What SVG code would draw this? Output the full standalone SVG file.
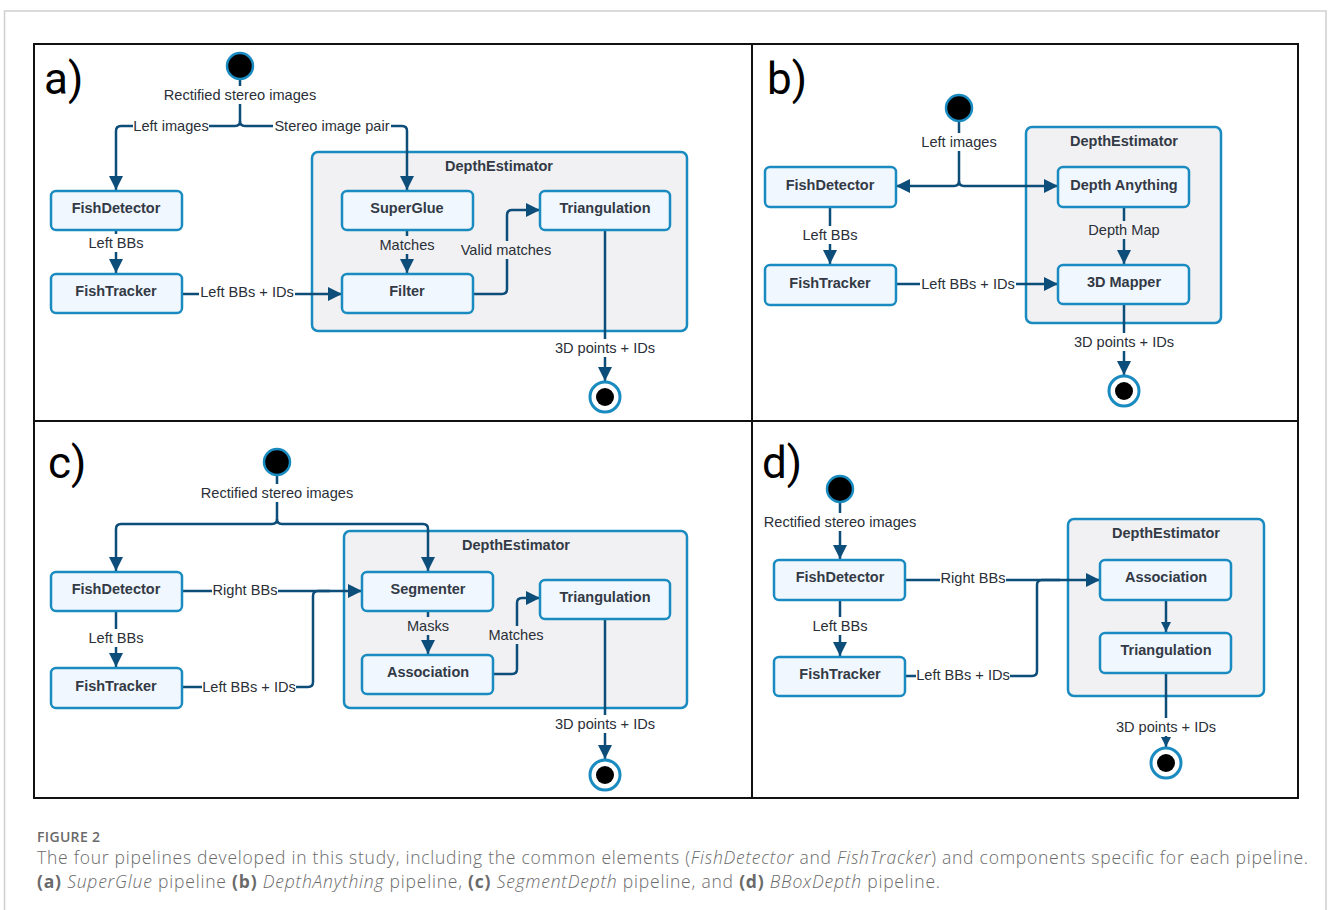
<svg xmlns="http://www.w3.org/2000/svg" width="1328" height="910" viewBox="0 0 1328 910">
<style>
.node rect{fill:#f0f7fe;stroke:#1a8bc0;stroke-width:2.5}
.node text{font-family:"Liberation Sans",Arial,sans-serif;font-weight:bold;font-size:14.5px;fill:#333a45;text-anchor:middle;dominant-baseline:central}
.cont rect{fill:#f1f1f3;stroke:#1a8bc0;stroke-width:2.5}
.cont text{font-family:"Liberation Sans",Arial,sans-serif;font-weight:bold;font-size:14.5px;fill:#333a45;text-anchor:middle;dominant-baseline:central}
.conn path{fill:none;stroke:#0c4d79;stroke-width:2.5}
.lbl{font-family:"Liberation Sans",Arial,sans-serif;font-size:14.6px;fill:#2a2f38;text-anchor:middle;dominant-baseline:central}
.bgw{fill:#ffffff}
.bgg{fill:#f1f1f3}
.start{fill:#000;stroke:#1a8bc0;stroke-width:2.5}
.endo{fill:#fff;stroke:#1a8bc0;stroke-width:3}
.endi{fill:#000}
.plet{font-family:Roboto,"Liberation Sans",sans-serif;font-size:44px;fill:#000}
.cap{font-family:"Open Sans","Noto Sans",sans-serif;fill:#6a6a6a}
</style>
<defs>
<marker id="arr" viewBox="0 0 12 12" refX="12" refY="6" markerWidth="14" markerHeight="14" markerUnits="userSpaceOnUse" orient="auto"><path d="M0,0 L12,6 L0,12 z" fill="#0c4d79"/></marker>
<marker id="arrs" viewBox="0 0 12 12" refX="12" refY="6" markerWidth="10" markerHeight="10" markerUnits="userSpaceOnUse" orient="auto"><path d="M0,0 L12,6 L0,12 z" fill="#0c4d79"/></marker>
</defs>
<rect width="1328" height="910" fill="#fff"/>
<path d="M4.5,920 V11 H1326 V920" fill="none" stroke="#cfcfcf" stroke-width="1.5"/>
<rect x="34" y="44" width="1264" height="754" fill="none" stroke="#111" stroke-width="2"/>
<line x1="752" y1="44" x2="752" y2="798" stroke="#111" stroke-width="2"/>
<line x1="34" y1="421" x2="1298" y2="421" stroke="#111" stroke-width="2"/>
<text class="plet" x="44" y="94">a)</text>
<text class="plet" x="767" y="94">b)</text>
<text class="plet" x="48" y="478">c)</text>
<text class="plet" x="762" y="478">d)</text>

<!-- containers -->
<g id="a-depthestimator" class="cont"><rect x="312" y="152" width="375" height="179" rx="6"/><text x="499" y="166">DepthEstimator</text></g>
<g id="b-depthestimator" class="cont"><rect x="1026" y="127" width="195" height="196" rx="6"/><text x="1124" y="141">DepthEstimator</text></g>
<g id="c-depthestimator" class="cont"><rect x="344" y="531" width="343" height="177" rx="6"/><text x="516" y="545">DepthEstimator</text></g>
<g id="d-depthestimator" class="cont"><rect x="1068" y="519" width="196" height="177" rx="6"/><text x="1166" y="533">DepthEstimator</text></g>

<!-- connectors -->
<g id="connectors" class="conn">
<!-- a -->
<path d="M240,79 V121 Q240,126 235,126 H121 Q116,126 116,131 V190" marker-end="url(#arr)"/>
<path d="M240,121 Q240,126 245,126 H402 Q407,126 407,131 V190" marker-end="url(#arr)"/>
<path d="M116,230 V273" marker-end="url(#arr)"/>
<path d="M182,294 H342" marker-end="url(#arr)"/>
<path d="M407,230 V273" marker-end="url(#arr)"/>
<path d="M473,294 H502 Q507,294 507,289 V215 Q507,210 512,210 H540" marker-end="url(#arr)"/>
<path d="M605,230 V381" marker-end="url(#arr)"/>
<!-- b -->
<path d="M959,121 V181 Q959,186 954,186 H896" marker-end="url(#arr)"/>
<path d="M959,181 Q959,186 964,186 H1058" marker-end="url(#arr)"/>
<path d="M830,207 V264" marker-end="url(#arr)"/>
<path d="M896,284 H1058" marker-end="url(#arr)"/>
<path d="M1124,207 V264" marker-end="url(#arr)"/>
<path d="M1124,304 V375" marker-end="url(#arr)"/>
<!-- c -->
<path d="M277,475 V519 Q277,524 272,524 H121 Q116,524 116,529 V571" marker-end="url(#arr)"/>
<path d="M277,519 Q277,524 282,524 H423 Q428,524 428,529 V571" marker-end="url(#arr)"/>
<path d="M182,591 H362" marker-end="url(#arr)"/>
<path d="M182,687 H308 Q313,687 313,682 V596 Q313,591 318,591 H330"/>
<path d="M116,611 V667" marker-end="url(#arr)"/>
<path d="M428,611 V654" marker-end="url(#arr)"/>
<path d="M493,674 H512 Q517,674 517,669 V603 Q517,598 522,598 H540" marker-end="url(#arr)"/>
<path d="M605,619 V759" marker-end="url(#arr)"/>
<!-- d -->
<path d="M840,502 V559" marker-end="url(#arr)"/>
<path d="M905,580 H1100" marker-end="url(#arr)"/>
<path d="M905,676 H1032 Q1037,676 1037,671 V585 Q1037,580 1042,580 H1060"/>
<path d="M840,600 V656" marker-end="url(#arr)"/>
<path d="M1166,600 V632" marker-end="url(#arrs)"/>
<path d="M1166,673 V747" marker-end="url(#arrs)"/>
</g>

<!-- labels -->
<g id="labels">
<rect class="bgw" x="162" y="86" width="156" height="18"/><text class="lbl" x="240" y="95">Rectified stereo images</text>
<rect class="bgw" x="133" y="117" width="76" height="18"/><text class="lbl" x="171" y="126">Left images</text>
<rect class="bgw" x="273" y="117" width="118" height="18"/><text class="lbl" x="332" y="126">Stereo image pair</text>
<rect class="bgw" x="86" y="234" width="60" height="18"/><text class="lbl" x="116" y="243">Left BBs</text>
<rect class="bgw" x="199" y="285" width="96" height="18"/><text class="lbl" x="247" y="292">Left BBs + IDs</text>
<rect class="bgg" x="377" y="236" width="60" height="18"/><text class="lbl" x="407" y="245">Matches</text>
<rect class="bgg" x="459" y="241" width="94" height="18"/><text class="lbl" x="506" y="250">Valid matches</text>
<rect class="bgw" x="553" y="339" width="104" height="18"/><text class="lbl" x="605" y="348">3D points + IDs</text>

<rect class="bgw" x="919" y="133" width="80" height="18"/><text class="lbl" x="959" y="142">Left images</text>
<rect class="bgw" x="800" y="226" width="60" height="18"/><text class="lbl" x="830" y="235">Left BBs</text>
<rect class="bgw" x="920" y="275" width="96" height="18"/><text class="lbl" x="968" y="284">Left BBs + IDs</text>
<rect class="bgg" x="1087" y="221" width="74" height="18"/><text class="lbl" x="1124" y="230">Depth Map</text>
<rect class="bgw" x="1072" y="333" width="104" height="18"/><text class="lbl" x="1124" y="342">3D points + IDs</text>

<rect class="bgw" x="199" y="484" width="156" height="18"/><text class="lbl" x="277" y="493">Rectified stereo images</text>
<rect class="bgw" x="212" y="581" width="66" height="18"/><text class="lbl" x="245" y="590">Right BBs</text>
<rect class="bgw" x="86" y="629" width="60" height="18"/><text class="lbl" x="116" y="638">Left BBs</text>
<rect class="bgw" x="202" y="678" width="94" height="18"/><text class="lbl" x="249" y="687">Left BBs + IDs</text>
<rect class="bgg" x="404" y="617" width="48" height="18"/><text class="lbl" x="428" y="626">Masks</text>
<rect class="bgg" x="487" y="626" width="60" height="18"/><text class="lbl" x="516" y="635">Matches</text>
<rect class="bgw" x="553" y="715" width="104" height="18"/><text class="lbl" x="605" y="724">3D points + IDs</text>

<rect class="bgw" x="762" y="513" width="156" height="18"/><text class="lbl" x="840" y="522">Rectified stereo images</text>
<rect class="bgw" x="940" y="569" width="66" height="18"/><text class="lbl" x="973" y="578">Right BBs</text>
<rect class="bgw" x="810" y="617" width="60" height="18"/><text class="lbl" x="840" y="626">Left BBs</text>
<rect class="bgw" x="916" y="666" width="94" height="18"/><text class="lbl" x="963" y="675">Left BBs + IDs</text>
<rect class="bgw" x="1114" y="718" width="104" height="18"/><text class="lbl" x="1166" y="727">3D points + IDs</text>
</g>

<!-- panel a nodes -->
<g id="a-start"><circle class="start" cx="240" cy="66" r="13"/></g>
<g id="a-fishdetector" class="node"><rect x="51" y="191" width="131" height="39" rx="5"/><text x="116" y="208">FishDetector</text></g>
<g id="a-fishtracker" class="node"><rect x="51" y="274" width="131" height="39" rx="5"/><text x="116" y="291">FishTracker</text></g>
<g id="a-superglue" class="node"><rect x="342" y="191" width="131" height="39" rx="5"/><text x="407" y="208">SuperGlue</text></g>
<g id="a-filter" class="node"><rect x="342" y="274" width="131" height="39" rx="5"/><text x="407" y="291">Filter</text></g>
<g id="a-triangulation" class="node"><rect x="540" y="191" width="130" height="39" rx="5"/><text x="605" y="208">Triangulation</text></g>
<g id="a-end"><circle class="endo" cx="605" cy="397" r="15"/><circle class="endi" cx="605" cy="397" r="9"/></g>

<!-- panel b nodes -->
<g id="b-start"><circle class="start" cx="959" cy="108" r="13"/></g>
<g id="b-fishdetector" class="node"><rect x="765" y="167" width="131" height="40" rx="5"/><text x="830" y="185">FishDetector</text></g>
<g id="b-fishtracker" class="node"><rect x="765" y="265" width="131" height="40" rx="5"/><text x="830" y="283">FishTracker</text></g>
<g id="b-depthanything" class="node"><rect x="1058" y="167" width="131" height="40" rx="5"/><text x="1124" y="185">Depth Anything</text></g>
<g id="b-3dmapper" class="node"><rect x="1058" y="265" width="131" height="39" rx="5"/><text x="1124" y="282">3D Mapper</text></g>
<g id="b-end"><circle class="endo" cx="1124" cy="391" r="15"/><circle class="endi" cx="1124" cy="391" r="9"/></g>

<!-- panel c nodes -->
<g id="c-start"><circle class="start" cx="277" cy="462" r="13"/></g>
<g id="c-fishdetector" class="node"><rect x="51" y="572" width="131" height="39" rx="5"/><text x="116" y="589">FishDetector</text></g>
<g id="c-fishtracker" class="node"><rect x="51" y="668" width="131" height="40" rx="5"/><text x="116" y="686">FishTracker</text></g>
<g id="c-segmenter" class="node"><rect x="362" y="572" width="131" height="39" rx="5"/><text x="428" y="589">Segmenter</text></g>
<g id="c-association" class="node"><rect x="362" y="655" width="131" height="39" rx="5"/><text x="428" y="672">Association</text></g>
<g id="c-triangulation" class="node"><rect x="540" y="580" width="130" height="39" rx="5"/><text x="605" y="597">Triangulation</text></g>
<g id="c-end"><circle class="endo" cx="605" cy="775" r="15"/><circle class="endi" cx="605" cy="775" r="9"/></g>

<!-- panel d nodes -->
<g id="d-start"><circle class="start" cx="840" cy="489" r="13"/></g>
<g id="d-fishdetector" class="node"><rect x="774" y="560" width="131" height="40" rx="5"/><text x="840" y="577">FishDetector</text></g>
<g id="d-fishtracker" class="node"><rect x="774" y="657" width="131" height="39" rx="5"/><text x="840" y="674">FishTracker</text></g>
<g id="d-association" class="node"><rect x="1100" y="560" width="131" height="40" rx="5"/><text x="1166" y="577">Association</text></g>
<g id="d-triangulation" class="node"><rect x="1100" y="633" width="131" height="40" rx="5"/><text x="1166" y="650">Triangulation</text></g>
<g id="d-end"><circle class="endo" cx="1166" cy="763" r="15"/><circle class="endi" cx="1166" cy="763" r="9"/></g>

<!-- caption -->
<g id="caption">
<text class="cap" x="37" y="842" font-size="14" font-weight="600" fill="#5a5a5a" textLength="63" lengthAdjust="spacing">FIGURE 2</text>
<text class="cap" x="37" y="864" font-size="17.5" font-weight="300" textLength="1271" lengthAdjust="spacing">The four pipelines developed in this study, including the common elements (<tspan font-style="italic">FishDetector</tspan> and <tspan font-style="italic">FishTracker</tspan>) and components specific for each pipeline.</text>
<text class="cap" x="37" y="888" font-size="17.5" font-weight="300" textLength="903" lengthAdjust="spacing"><tspan font-weight="bold">(a)</tspan> <tspan font-style="italic">SuperGlue</tspan> pipeline <tspan font-weight="bold">(b)</tspan> <tspan font-style="italic">DepthAnything</tspan> pipeline, <tspan font-weight="bold">(c)</tspan> <tspan font-style="italic">SegmentDepth</tspan> pipeline, and <tspan font-weight="bold">(d)</tspan> <tspan font-style="italic">BBoxDepth</tspan> pipeline.</text>
</g>
</svg>
